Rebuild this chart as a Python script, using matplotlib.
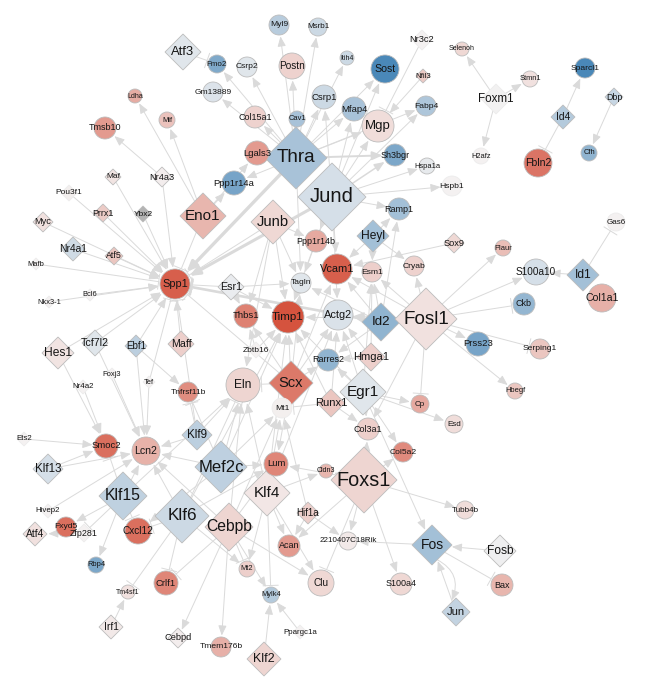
import numpy as np
import matplotlib
matplotlib.use('Agg')
import matplotlib.pyplot as plt
from matplotlib.patches import Circle, RegularPolygon, FancyArrowPatch, ArrowStyle
from matplotlib.colors import LinearSegmentedColormap, Normalize

# transcription factors are drawn as diamonds, target genes as circles
tfs = ['Atf3', 'Thra', 'Jund', 'Junb', 'Eno1', 'Maf', 'Nr4a3', 'Pou3f1', 'Prrx1', 'Ybx2',
       'Myc', 'Nr4a1', 'Atf5', 'Mafb', 'Bcl6', 'Nkx3-1', 'Esr1', 'Tcf7l2', 'Ebf1', 'Maff',
       'Hes1', 'Zbtb16', 'Foxj3', 'Tef', 'Nr4a2', 'Scx', 'Ets2', 'Klf9', 'Klf13', 'Mef2c',
       'Klf15', 'Klf4', 'Hif1a', 'Hivep2', 'Zfp281', 'Atf4', 'Klf6', 'Cebpb', 'Irf1', 'Cebpd',
       'Ppargc1a', 'Klf2', 'Heyl', 'Sox9', 'Id1', 'Id2', 'Fosl1', 'Hmga1', 'Egr1', 'Runx1',
       'Foxs1', 'Fos', 'Fosb', 'Jun', 'Nr3c2', 'Nfil3', 'Foxm1', 'Id4', 'Dbp']

# log fold change (red = up, blue = down), nan = not measured
logfc = {
    'Atf3': -0.1, 'Thra': -0.38, 'Jund': -0.15, 'Junb': 0.15, 'Eno1': 0.35, 'Maf': 0.08,
    'Nr4a3': 0.03, 'Pou3f1': 0.02, 'Prrx1': 0.22, 'Ybx2': np.nan, 'Myc': 0.1, 'Nr4a1': -0.18,
    'Atf5': 0.25, 'Mafb': 0.0, 'Bcl6': 0.0, 'Nkx3-1': 0.0, 'Esr1': -0.05, 'Tcf7l2': -0.1,
    'Ebf1': -0.28, 'Maff': 0.2, 'Hes1': 0.08, 'Zbtb16': 0.0, 'Foxj3': 0.0, 'Tef': 0.0,
    'Nr4a2': 0.0, 'Scx': 0.7, 'Ets2': 0.0, 'Klf9': -0.28, 'Klf13': -0.15, 'Mef2c': -0.27,
    'Klf15': -0.26, 'Klf4': 0.07, 'Hif1a': 0.2, 'Hivep2': 0.0, 'Zfp281': 0.0, 'Atf4': 0.1,
    'Klf6': -0.2, 'Cebpb': 0.17, 'Irf1': 0.05, 'Cebpd': 0.03, 'Ppargc1a': 0.0, 'Klf2': 0.17,
    'Heyl': -0.4, 'Sox9': 0.15, 'Id1': -0.4, 'Id2': -0.5, 'Fosl1': 0.1, 'Hmga1': 0.2,
    'Egr1': -0.1, 'Runx1': 0.25, 'Foxs1': 0.17, 'Fos': -0.4, 'Fosb': -0.03, 'Jun': -0.25,
    'Nr3c2': 0.0, 'Nfil3': 0.22, 'Foxm1': -0.01, 'Id4': -0.32, 'Dbp': -0.22,
    'Fmo2': -0.58, 'Csrp2': -0.1, 'Myl9': -0.3, 'Msrb1': -0.2, 'Postn': 0.18, 'Gm13889': -0.12,
    'Col15a1': 0.18, 'Cav1': -0.38, 'Csrp1': -0.2, 'Ldha': 0.4, 'Mif': 0.28, 'Tmsb10': 0.5,
    'Lgals3': 0.5, 'Ppp1r14a': -0.62, 'Itih4': -0.2, 'Sost': -0.85, 'Selenoh': 0.15,
    'Stmn1': 0.1, 'Sparcl1': -0.85, 'Mfap4': -0.38, 'Mgp': 0.12, 'Fabp4': -0.35,
    'Sh3bgr': -0.6, 'Hspa1a': -0.07, 'H2afz': 0.0, 'Fbln2': 0.72, 'Cfh': -0.5, 'Hspb1': 0.0,
    'Ramp1': -0.4, 'Gas6': 0.0, 'Spp1': 0.85, 'Tagln': -0.1, 'Thbs1': 0.65, 'Timp1': 0.92,
    'Ppp1r14b': 0.42, 'Vcam1': 0.85, 'Esm1': 0.2, 'Cryab': 0.18, 'Plaur': 0.3,
    'S100a10': -0.15, 'Col1a1': 0.38, 'Ckb': -0.48, 'Actg2': -0.13, 'Prss23': -0.62,
    'Serping1': 0.25, 'Rarres2': -0.5, 'Hbegf': 0.25, 'Cp': 0.42, 'Esd': 0.12,
    'Col3a1': 0.2, 'Col5a2': 0.6, 'Cldn3': 0.35, 'Tubb4b': 0.12, '2210407C18Rik': 0.05,
    'S100a4': 0.15, 'Bax': 0.35, 'Tnfrsf11b': 0.58, 'Eln': 0.17, 'Mt1': 0.02, 'Smoc2': 0.75,
    'Lcn2': 0.37, 'Lum': 0.62, 'Fxyd5': 0.75, 'Cxcl12': 0.75, 'Acan': 0.5, 'Rbp4': -0.6,
    'Mt2': 0.2, 'Clu': 0.15, 'Crlf1': 0.62, 'Tm4sf1': 0.1, 'Mylk4': -0.32, 'Tmem176b': 0.38,
}

# network layout: x, y (pixels) and node size
layout = {
    'Atf3': (183, 52, 18), 'Thra': (296, 158, 31), 'Jund': (332, 197, 34),
    'Junb': (273, 222, 22), 'Eno1': (203, 216, 23), 'Maf': (113, 177, 8),
    'Nr4a3': (162, 177, 10), 'Pou3f1': (69, 193, 8), 'Prrx1': (103, 213, 9),
    'Ybx2': (143, 214, 8), 'Myc': (43, 222, 10), 'Nr4a1': (73, 249, 12),
    'Atf5': (114, 256, 9), 'Mafb': (36, 264, 6), 'Bcl6': (90, 295, 6),
    'Nkx3-1': (49, 302, 6), 'Esr1': (231, 287, 13), 'Tcf7l2': (95, 343, 13),
    'Ebf1': (136, 346, 11), 'Maff': (181, 344, 13), 'Hes1': (58, 353, 16),
    'Zbtb16': (256, 350, 8), 'Foxj3': (112, 374, 6), 'Tef': (149, 382, 6),
    'Nr4a2': (83, 387, 7), 'Scx': (291, 383, 22), 'Ets2': (24, 439, 7),
    'Klf9': (197, 435, 15), 'Klf13': (48, 469, 15), 'Mef2c': (221, 467, 26),
    'Klf15': (123, 496, 24), 'Klf4': (267, 493, 23), 'Hif1a': (308, 513, 11),
    'Hivep2': (48, 511, 7), 'Zfp281': (84, 533, 9), 'Atf4': (35, 534, 12),
    'Klf6': (182, 516, 27), 'Cebpb': (229, 527, 24), 'Irf1': (111, 627, 12),
    'Cebpd': (178, 638, 10), 'Ppargc1a': (300, 632, 7), 'Klf2': (264, 659, 17),
    'Heyl': (373, 236, 16), 'Sox9': (454, 243, 10), 'Id1': (583, 275, 16),
    'Id2': (381, 322, 19), 'Fosl1': (426, 319, 31), 'Hmga1': (371, 357, 14),
    'Egr1': (363, 392, 23), 'Runx1': (331, 403, 14), 'Foxs1': (364, 480, 33),
    'Fos': (432, 545, 20), 'Fosb': (500, 551, 16), 'Jun': (456, 612, 14),
    'Nr3c2': (422, 40, 10), 'Nfil3': (423, 76, 7), 'Foxm1': (496, 99, 15),
    'Id4': (563, 117, 12), 'Dbp': (614, 97, 9),
    'Fmo2': (217, 64, 9), 'Csrp2': (247, 67, 10), 'Myl9': (279, 25, 10),
    'Msrb1': (318, 27, 9), 'Postn': (292, 66, 13), 'Gm13889': (213, 92, 10),
    'Col15a1': (255, 117, 11), 'Cav1': (297, 119, 8), 'Csrp1': (324, 97, 12),
    'Ldha': (135, 96, 7), 'Mif': (167, 120, 8), 'Tmsb10': (105, 128, 11),
    'Lgals3': (257, 153, 12), 'Ppp1r14a': (234, 183, 12), 'Itih4': (347, 58, 7),
    'Sost': (385, 69, 14), 'Selenoh': (462, 49, 7), 'Stmn1': (530, 79, 8),
    'Sparcl1': (585, 68, 10), 'Mfap4': (354, 109, 12), 'Mgp': (378, 126, 16),
    'Fabp4': (426, 106, 10), 'Sh3bgr': (395, 155, 11), 'Hspa1a': (427, 166, 8),
    'H2afz': (481, 156, 8), 'Fbln2': (538, 163, 14), 'Cfh': (589, 153, 8),
    'Hspb1': (452, 186, 10), 'Ramp1': (399, 209, 11), 'Gas6': (616, 222, 9),
    'Spp1': (175, 284, 15), 'Tagln': (301, 283, 10), 'Thbs1': (246, 316, 12),
    'Timp1': (288, 317, 16), 'Ppp1r14b': (316, 241, 11), 'Vcam1': (337, 269, 15),
    'Esm1': (372, 272, 10), 'Cryab': (414, 266, 10), 'Plaur': (503, 248, 8),
    'S100a10': (536, 272, 13), 'Col1a1': (602, 298, 14), 'Ckb': (524, 304, 11),
    'Actg2': (338, 315, 15), 'Prss23': (478, 344, 12), 'Serping1': (540, 349, 10),
    'Rarres2': (328, 360, 11), 'Hbegf': (515, 391, 8), 'Cp': (420, 404, 9),
    'Esd': (454, 424, 9), 'Col3a1': (368, 429, 11), 'Col5a2': (403, 452, 10),
    'Cldn3': (326, 471, 7), 'Tubb4b': (465, 510, 9), '2210407C18Rik': (348, 541, 9),
    'S100a4': (401, 584, 11), 'Bax': (502, 585, 11), 'Tnfrsf11b': (188, 392, 10),
    'Eln': (243, 385, 17), 'Mt1': (282, 408, 10), 'Smoc2': (106, 446, 12),
    'Lcn2': (146, 451, 14), 'Lum': (276, 464, 12), 'Fxyd5': (66, 527, 10),
    'Cxcl12': (138, 531, 13), 'Acan': (289, 546, 11), 'Rbp4': (96, 565, 8),
    'Mt2': (247, 569, 8), 'Clu': (321, 583, 13), 'Crlf1': (166, 583, 12),
    'Tm4sf1': (128, 592, 7), 'Mylk4': (271, 595, 8), 'Tmem176b': (221, 647, 10),
}

# regulation: a = activation (arrow), t = repression (bar)
edges = [
    ('Thra', 'Fmo2', 'a'), ('Thra', 'Gm13889', 'a'), ('Thra', 'Csrp2', 'a'),
    ('Thra', 'Myl9', 'a'), ('Thra', 'Msrb1', 'a'), ('Thra', 'Postn', 'a'),
    ('Thra', 'Col15a1', 'a'), ('Thra', 'Cav1', 'a'), ('Thra', 'Csrp1', 'a'),
    ('Thra', 'Lgals3', 'a'), ('Thra', 'Ppp1r14a', 'a'), ('Thra', 'Mfap4', 'a'),
    ('Thra', 'Mgp', 'a'), ('Thra', 'Sh3bgr', 'a'), ('Thra', 'Itih4', 'a'),
    ('Thra', 'Sost', 'a'), ('Thra', 'Spp1', 'a'), ('Thra', 'Tagln', 'a'),
    ('Thra', 'Fabp4', 'a'),
    ('Jund', 'Csrp1', 'a'), ('Jund', 'Mfap4', 'a'), ('Jund', 'Mgp', 'a'),
    ('Jund', 'Sh3bgr', 'a'), ('Jund', 'Hspa1a', 'a'), ('Jund', 'Hspb1', 'a'),
    ('Jund', 'Ramp1', 'a'), ('Jund', 'Spp1', 'a'), ('Jund', 'Vcam1', 'a'),
    ('Jund', 'Ppp1r14b', 'a'), ('Jund', 'Tagln', 'a'), ('Jund', 'Sost', 'a'),
    ('Jund', 'Fabp4', 'a'), ('Jund', 'Actg2', 'a'), ('Jund', 'Timp1', 'a'),
    ('Atf3', 'Fmo2', 't'), ('Nr3c2', 'Mgp', 't'), ('Nfil3', 'Mgp', 'a'),
    ('Eno1', 'Ldha', 'a'), ('Eno1', 'Mif', 'a'), ('Eno1', 'Lgals3', 'a'),
    ('Eno1', 'Ppp1r14a', 'a'), ('Eno1', 'Spp1', 't'),
    ('Nr4a3', 'Tmsb10', 'a'), ('Nr4a3', 'Spp1', 'a'),
    ('Maf', 'Spp1', 'a'), ('Pou3f1', 'Spp1', 'a'), ('Prrx1', 'Spp1', 'a'),
    ('Ybx2', 'Spp1', 'a'), ('Myc', 'Spp1', 'a'), ('Nr4a1', 'Spp1', 'a'),
    ('Atf5', 'Spp1', 'a'), ('Mafb', 'Spp1', 't'), ('Bcl6', 'Spp1', 'a'),
    ('Nkx3-1', 'Spp1', 'a'), ('Tcf7l2', 'Spp1', 'a'), ('Hes1', 'Spp1', 'a'),
    ('Ebf1', 'Spp1', 'a'), ('Maff', 'Spp1', 'a'), ('Tef', 'Spp1', 't'),
    ('Junb', 'Spp1', 't'), ('Junb', 'Ppp1r14b', 'a'), ('Junb', 'Tagln', 'a'),
    ('Junb', 'Thbs1', 'a'), ('Junb', 'Eln', 'a'), ('Junb', 'Timp1', 'a'),
    ('Esr1', 'Spp1', 't'), ('Esr1', 'Thbs1', 'a'), ('Esr1', 'Tagln', 'a'),
    ('Esr1', 'Timp1', 'a'),
    ('Heyl', 'Cryab', 'a'), ('Heyl', 'Vcam1', 'a'), ('Heyl', 'Esm1', 'a'),
    ('Heyl', 'Ramp1', 'a'), ('Sox9', 'Vcam1', 'a'),
    ('Id2', 'Esm1', 'a'), ('Id2', 'Actg2', 'a'), ('Id2', 'Rarres2', 'a'),
    ('Id2', 'Vcam1', 'a'), ('Id2', 'Ramp1', 'a'), ('Id2', 'Tagln', 'a'),
    ('Id2', 'Spp1', 't'),
    ('Fosl1', 'Plaur', 'a'), ('Fosl1', 'S100a10', 'a'), ('Fosl1', 'Prss23', 'a'),
    ('Fosl1', 'Hbegf', 'a'), ('Fosl1', 'Cryab', 'a'), ('Fosl1', 'Esm1', 'a'),
    ('Fosl1', 'Actg2', 'a'), ('Fosl1', 'Vcam1', 'a'), ('Fosl1', 'Timp1', 'a'),
    ('Fosl1', 'Col3a1', 'a'), ('Fosl1', 'Ckb', 't'), ('Fosl1', 'Serping1', 't'),
    ('Fosl1', 'Cp', 't'),
    ('Id1', 'Gas6', 't'), ('Id1', 'S100a10', 'a'),
    ('Foxm1', 'Selenoh', 'a'), ('Foxm1', 'Stmn1', 'a'), ('Foxm1', 'H2afz', 'a'),
    ('Id4', 'Sparcl1', 'a'), ('Id4', 'Fbln2', 't'), ('Dbp', 'Cfh', 'a'),
    ('Scx', 'Timp1', 'a'), ('Scx', 'Thbs1', 'a'), ('Scx', 'Actg2', 'a'),
    ('Scx', 'Tagln', 'a'), ('Scx', 'Mt1', 'a'), ('Scx', 'Rarres2', 'a'),
    ('Scx', 'Vcam1', 'a'), ('Scx', 'Lum', 'a'), ('Scx', 'Eln', 't'),
    ('Scx', 'Spp1', 't'),
    ('Zbtb16', 'Thbs1', 'a'), ('Zbtb16', 'Timp1', 'a'),
    ('Egr1', 'Cp', 'a'), ('Egr1', 'Col3a1', 'a'), ('Egr1', 'Col5a2', 'a'),
    ('Egr1', 'Rarres2', 'a'), ('Egr1', 'Actg2', 'a'), ('Egr1', 'Timp1', 'a'),
    ('Egr1', 'Fos', 'a'), ('Egr1', 'Esm1', 'a'), ('Egr1', 'Esd', 'a'),
    ('Runx1', 'Actg2', 'a'), ('Runx1', 'Timp1', 'a'), ('Runx1', 'Col3a1', 'a'),
    ('Runx1', 'Mt1', 't'),
    ('Hmga1', 'Actg2', 'a'), ('Hmga1', 'Rarres2', 'a'), ('Hmga1', 'Esm1', 'a'),
    ('Foxs1', 'Tubb4b', 'a'), ('Foxs1', 'S100a4', 'a'), ('Foxs1', '2210407C18Rik', 'a'),
    ('Foxs1', 'Cldn3', 'a'), ('Foxs1', 'Col3a1', 'a'), ('Foxs1', 'Lum', 'a'),
    ('Foxs1', 'Col5a2', 'a'), ('Foxs1', 'Acan', 'a'), ('Foxs1', 'Clu', 't'),
    ('Fos', 'Jun', 'a'), ('Jun', 'Fos', 'a'), ('Fosb', 'Fos', 'a'),
    ('Fos', 'Bax', 't'), ('Fos', '2210407C18Rik', 'a'),
    ('Klf4', 'Lum', 'a'), ('Klf4', 'Mt1', 'a'), ('Klf4', 'Acan', 'a'),
    ('Klf4', 'Cldn3', 'a'), ('Klf4', 'Eln', 'a'), ('Klf4', 'Mt2', 'a'),
    ('Klf4', 'Clu', 'a'), ('Klf4', 'Timp1', 'a'), ('Klf4', 'Actg2', 'a'),
    ('Klf4', 'Mylk4', 't'),
    ('Hif1a', 'Acan', 'a'), ('Hif1a', '2210407C18Rik', 'a'), ('Hif1a', 'Mt1', 'a'),
    ('Cebpb', 'Cebpd', 'a'), ('Cebpb', 'Tmem176b', 'a'), ('Cebpb', 'Clu', 'a'),
    ('Cebpb', 'Mylk4', 'a'), ('Cebpb', 'Lcn2', 'a'), ('Cebpb', 'Eln', 'a'),
    ('Cebpb', 'Mt1', 'a'), ('Cebpb', 'Lum', 'a'), ('Cebpb', 'Crlf1', 't'),
    ('Cebpb', 'Mt2', 't'),
    ('Klf2', 'Mylk4', 'a'), ('Ppargc1a', 'Mylk4', 'a'),
    ('Mef2c', 'Lcn2', 'a'), ('Mef2c', 'Lum', 'a'), ('Mef2c', 'Mt1', 'a'),
    ('Mef2c', 'Eln', 'a'), ('Mef2c', 'Cxcl12', 'a'), ('Mef2c', 'Timp1', 'a'),
    ('Mef2c', 'Tnfrsf11b', 't'),
    ('Klf9', 'Lcn2', 'a'), ('Klf9', 'Eln', 'a'), ('Klf9', 'Spp1', 't'),
    ('Klf9', 'Tnfrsf11b', 't'),
    ('Klf6', 'Lcn2', 'a'), ('Klf6', 'Mt2', 'a'), ('Klf6', 'Lum', 'a'),
    ('Klf6', 'Timp1', 'a'), ('Klf6', 'Tm4sf1', 't'), ('Klf6', 'Crlf1', 't'),
    ('Klf6', 'Eln', 't'), ('Klf6', 'Cxcl12', 't'),
    ('Klf15', 'Rbp4', 'a'), ('Klf15', 'Lcn2', 'a'), ('Klf15', 'Fxyd5', 'a'),
    ('Klf15', 'Eln', 'a'), ('Klf15', 'Smoc2', 't'), ('Klf15', 'Zfp281', 't'),
    ('Klf15', 'Cxcl12', 't'),
    ('Klf13', 'Lcn2', 'a'), ('Klf13', 'Smoc2', 'a'), ('Irf1', 'Tm4sf1', 'a'),
    ('Zfp281', 'Atf4', 'a'), ('Hivep2', 'Lcn2', 'a'), ('Ets2', 'Smoc2', 'a'),
    ('Nr4a2', 'Smoc2', 'a'), ('Hes1', 'Smoc2', 'a'), ('Foxj3', 'Lcn2', 'a'),
    ('Tef', 'Lcn2', 'a'), ('Ebf1', 'Lcn2', 'a'), ('Ebf1', 'Tnfrsf11b', 'a'),
    ('Tcf7l2', 'Lcn2', 'a'),
]

# edges with stronger support are drawn thicker
edge_width = {('Thra', 'Spp1'): 2.4, ('Jund', 'Spp1'): 2.2, ('Id2', 'Spp1'): 1.9,
              ('Thra', 'Sh3bgr'): 1.4, ('Jund', 'Sh3bgr'): 1.1}
curved = {('Fos', 'Jun'): -0.45}

cmap = LinearSegmentedColormap.from_list('fc', ['#2c75ae', '#f4f2f2', '#d2452f'])
norm = Normalize(-1, 1)
font = ['Liberation Sans', 'DejaVu Sans']


def boundary(name, ux, uy):
    s = layout[name][2]
    if name in tfs:
        return s / (abs(ux) + abs(uy))
    return s


fig = plt.figure(figsize=(6.57, 6.80), dpi=100)
ax = fig.add_axes([0, 0, 1, 1])
ax.set_xlim(0, 657)
ax.set_ylim(680, 0)
ax.axis('off')

edge_col = '#dadada'
for src, dst, kind in edges:
    x0, y0, _ = layout[src]
    x1, y1, _ = layout[dst]
    d = np.hypot(x1 - x0, y1 - y0)
    ux, uy = (x1 - x0) / d, (y1 - y0) / d
    a = boundary(src, ux, uy)
    b = boundary(dst, ux, uy) + 1.5
    p0 = (x0 + ux * a, y0 + uy * a)
    p1 = (x1 - ux * b, y1 - uy * b)
    if kind == 'a':
        style = ArrowStyle('-|>', head_length=0.6, head_width=0.25)
    else:
        style = ArrowStyle('-[', widthB=0.55, lengthB=0.0)
    conn = 'arc3,rad=%.2f' % curved.get((src, dst), 0.0)
    ax.add_patch(FancyArrowPatch(p0, p1, arrowstyle=style, mutation_scale=10,
                                 lw=edge_width.get((src, dst), 0.7), color=edge_col,
                                 shrinkA=0, shrinkB=0, connectionstyle=conn, zorder=1))

for name, (x, y, s) in layout.items():
    v = logfc[name]
    fc = '#b3b3b3' if np.isnan(v) else cmap(norm(v))
    ec = '#ececec' if (not np.isnan(v) and abs(v) < 0.03) else '#bcbcbc'
    if name in tfs:
        patch = RegularPolygon((x, y), 4, radius=s, orientation=0, fc=fc, ec=ec,
                               lw=0.6, zorder=2)
        fs = 0.33 * s + 3.4
    else:
        patch = Circle((x, y), s, fc=fc, ec=ec, lw=0.6, zorder=2)
        fs = 0.36 * s + 2.5
    if name == 'Mgp':
        fs = 9.5
    ax.add_patch(patch)
    ax.text(x, y, name, ha='center', va='center', fontsize=fs, family=font,
            color='#151515', zorder=4)

fig.savefig('out.png', dpi=100)
